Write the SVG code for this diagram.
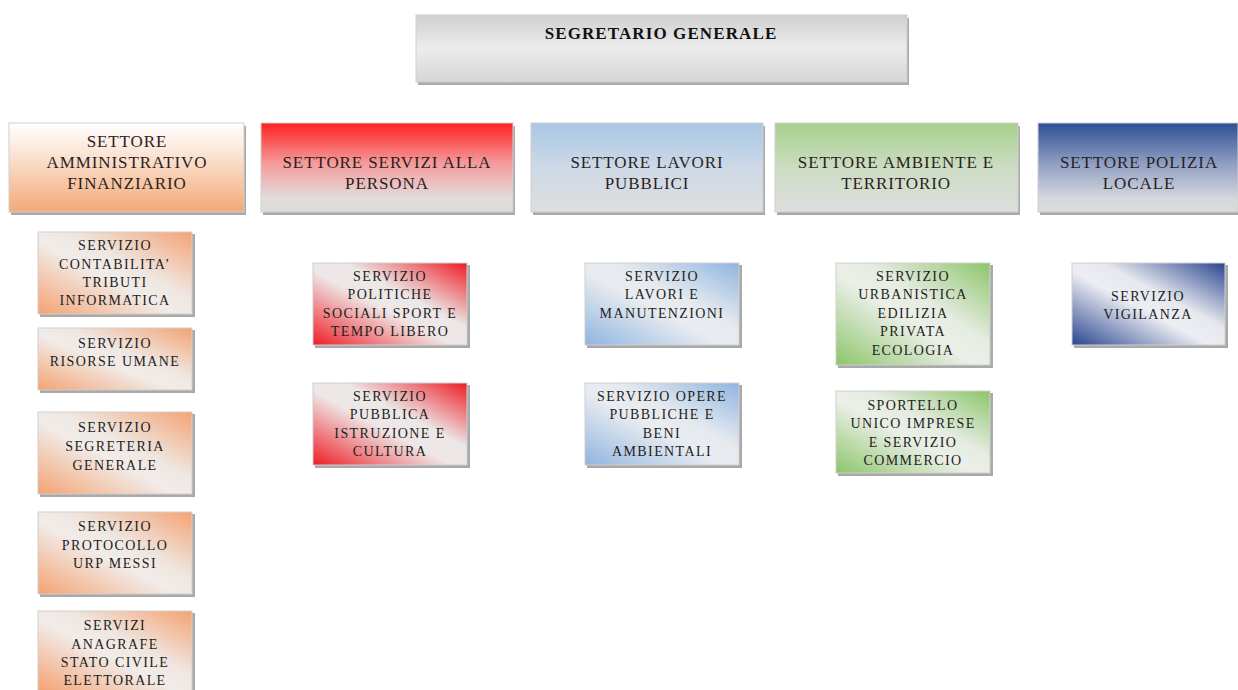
<svg xmlns="http://www.w3.org/2000/svg" width="1238" height="690" viewBox="0 0 1238 690">
<defs>
<linearGradient id="gTop" x1="0" y1="0" x2="0" y2="1"><stop offset="0" stop-color="#cfcfcf"/><stop offset="0.5" stop-color="#ececec"/><stop offset="1" stop-color="#d6d6d6"/></linearGradient>
<linearGradient id="sOr" x1="0" y1="0" x2="0" y2="1"><stop offset="0" stop-color="#ffffff"/><stop offset="0.35" stop-color="#fbe4d4"/><stop offset="1" stop-color="#f2a977"/></linearGradient>
<linearGradient id="sRed" x1="0" y1="0" x2="0" y2="1"><stop offset="0" stop-color="#ff2020"/><stop offset="0.45" stop-color="#f59a9a"/><stop offset="0.85" stop-color="#e2dcdc"/><stop offset="1" stop-color="#dcdcdc"/></linearGradient>
<linearGradient id="sBlu" x1="0" y1="0" x2="0" y2="1"><stop offset="0" stop-color="#a9c6e6"/><stop offset="0.5" stop-color="#cdd9e6"/><stop offset="1" stop-color="#dedede"/></linearGradient>
<linearGradient id="sGrn" x1="0" y1="0" x2="0" y2="1"><stop offset="0" stop-color="#a7d08c"/><stop offset="0.5" stop-color="#ccdcc2"/><stop offset="1" stop-color="#dedede"/></linearGradient>
<linearGradient id="sNav" x1="0" y1="0" x2="0" y2="1"><stop offset="0" stop-color="#2f4f95"/><stop offset="0.45" stop-color="#8e9dc2"/><stop offset="0.85" stop-color="#d6d8de"/><stop offset="1" stop-color="#dcdcdc"/></linearGradient>
<linearGradient id="bOr" x1="0" y1="1" x2="1" y2="0"><stop offset="0" stop-color="#f4a272"/><stop offset="0.45" stop-color="#f1ece9"/><stop offset="0.6" stop-color="#efe6e0"/><stop offset="1" stop-color="#f4a272"/></linearGradient>
<linearGradient id="bRed" x1="0" y1="1" x2="1" y2="0"><stop offset="0" stop-color="#ee1c24"/><stop offset="0.45" stop-color="#efe6e6"/><stop offset="0.6" stop-color="#ece8e8"/><stop offset="1" stop-color="#ee1c24"/></linearGradient>
<linearGradient id="bBlu" x1="0" y1="1" x2="1" y2="0"><stop offset="0" stop-color="#8fb4e0"/><stop offset="0.45" stop-color="#e9ecf0"/><stop offset="0.6" stop-color="#e6eaef"/><stop offset="1" stop-color="#8fb4e0"/></linearGradient>
<linearGradient id="bGrn" x1="0" y1="1" x2="1" y2="0"><stop offset="0" stop-color="#8cc56a"/><stop offset="0.45" stop-color="#ebefe8"/><stop offset="0.6" stop-color="#e6ece2"/><stop offset="1" stop-color="#8cc56a"/></linearGradient>
<linearGradient id="bNav" x1="0" y1="1" x2="1" y2="0"><stop offset="0" stop-color="#2a4590"/><stop offset="0.45" stop-color="#eceef3"/><stop offset="0.6" stop-color="#e6e8ee"/><stop offset="1" stop-color="#2a4590"/></linearGradient>
</defs>
<style>
.sh{fill:#a9a9a9}
.bd{stroke:#d0d0d0;stroke-width:1}
.t0{font-size:17px;font-weight:bold;fill:#111;letter-spacing:1.1px}
.t1{font-size:17px;fill:#2a1f1f;letter-spacing:0.9px}
.t2{font-size:14px;fill:#1e1e1e;letter-spacing:1.4px}
</style>
<rect width="1238" height="690" fill="#ffffff"/>
<g id="connectors"></g>
<g font-family="Liberation Serif, Times New Roman, serif" text-anchor="middle">
<g id="segretario">
<rect class="sh" x="418" y="18" width="491" height="67"/>
<rect x="416" y="15" width="491" height="67" fill="url(#gTop)" class="bd"/>
<text class="t0" x="661" y="39">SEGRETARIO GENERALE</text>
</g>
<g id="settore-amm">
<rect class="sh" x="11" y="126" width="235" height="89"/>
<rect x="9" y="123" width="235" height="89" fill="url(#sOr)" class="bd"/>
<text class="t1" x="127" y="147">SETTORE</text>
<text class="t1" x="127" y="168">AMMINISTRATIVO</text>
<text class="t1" x="127" y="189">FINANZIARIO</text>
</g>
<g id="settore-persona">
<rect class="sh" x="263" y="126" width="252" height="89"/>
<rect x="261" y="123" width="252" height="89" fill="url(#sRed)" class="bd"/>
<text class="t1" x="387" y="168">SETTORE SERVIZI ALLA</text>
<text class="t1" x="387" y="189">PERSONA</text>
</g>
<g id="settore-lavori">
<rect class="sh" x="533" y="126" width="232" height="89"/>
<rect x="531" y="123" width="232" height="89" fill="url(#sBlu)" class="bd"/>
<text class="t1" x="647" y="168">SETTORE LAVORI</text>
<text class="t1" x="647" y="189">PUBBLICI</text>
</g>
<g id="settore-ambiente">
<rect class="sh" x="777" y="126" width="243" height="89"/>
<rect x="775" y="123" width="243" height="89" fill="url(#sGrn)" class="bd"/>
<text class="t1" x="896" y="168">SETTORE AMBIENTE E</text>
<text class="t1" x="896" y="189">TERRITORIO</text>
</g>
<g id="settore-polizia">
<rect class="sh" x="1040" y="126" width="200" height="89"/>
<rect x="1038" y="123" width="200" height="89" fill="url(#sNav)" class="bd"/>
<text class="t1" x="1139" y="168">SETTORE POLIZIA</text>
<text class="t1" x="1139" y="189">LOCALE</text>
</g>
<g id="serv-contabilita">
<rect class="sh" x="40" y="234" width="155" height="83"/>
<rect x="38" y="232" width="154" height="82" fill="url(#bOr)" class="bd"/>
<text class="t2" x="115" y="250">SERVIZIO</text>
<text class="t2" x="115" y="269">CONTABILITA’</text>
<text class="t2" x="115" y="287">TRIBUTI</text>
<text class="t2" x="115" y="305">INFORMATICA</text>
</g>
<g id="serv-risorse">
<rect class="sh" x="40" y="330" width="155" height="63"/>
<rect x="38" y="328" width="154" height="62" fill="url(#bOr)" class="bd"/>
<text class="t2" x="115" y="348">SERVIZIO</text>
<text class="t2" x="115" y="366">RISORSE UMANE</text>
</g>
<g id="serv-segreteria">
<rect class="sh" x="40" y="414" width="155" height="83"/>
<rect x="38" y="412" width="154" height="82" fill="url(#bOr)" class="bd"/>
<text class="t2" x="115" y="432">SERVIZIO</text>
<text class="t2" x="115" y="451">SEGRETERIA</text>
<text class="t2" x="115" y="470">GENERALE</text>
</g>
<g id="serv-protocollo">
<rect class="sh" x="40" y="514" width="155" height="83"/>
<rect x="38" y="512" width="154" height="82" fill="url(#bOr)" class="bd"/>
<text class="t2" x="115" y="531">SERVIZIO</text>
<text class="t2" x="115" y="550">PROTOCOLLO</text>
<text class="t2" x="115" y="568">URP MESSI</text>
</g>
<g id="serv-anagrafe">
<rect class="sh" x="40" y="613" width="155" height="80"/>
<rect x="38" y="611" width="154" height="80" fill="url(#bOr)" class="bd"/>
<text class="t2" x="115" y="630">SERVIZI</text>
<text class="t2" x="115" y="649">ANAGRAFE</text>
<text class="t2" x="115" y="667">STATO CIVILE</text>
<text class="t2" x="115" y="685">ELETTORALE</text>
</g>
<g id="serv-politiche">
<rect class="sh" x="315" y="265" width="155" height="83"/>
<rect x="313" y="263" width="154" height="82" fill="url(#bRed)" class="bd"/>
<text class="t2" x="390" y="281">SERVIZIO</text>
<text class="t2" x="390" y="299">POLITICHE</text>
<text class="t2" x="390" y="318">SOCIALI SPORT E</text>
<text class="t2" x="390" y="336">TEMPO LIBERO</text>
</g>
<g id="serv-istruzione">
<rect class="sh" x="315" y="385" width="155" height="83"/>
<rect x="313" y="383" width="154" height="82" fill="url(#bRed)" class="bd"/>
<text class="t2" x="390" y="401">SERVIZIO</text>
<text class="t2" x="390" y="419">PUBBLICA</text>
<text class="t2" x="390" y="438">ISTRUZIONE E</text>
<text class="t2" x="390" y="456">CULTURA</text>
</g>
<g id="serv-lavori">
<rect class="sh" x="587" y="265" width="155" height="83"/>
<rect x="585" y="263" width="154" height="82" fill="url(#bBlu)" class="bd"/>
<text class="t2" x="662" y="281">SERVIZIO</text>
<text class="t2" x="662" y="299">LAVORI E</text>
<text class="t2" x="662" y="318">MANUTENZIONI</text>
</g>
<g id="serv-opere">
<rect class="sh" x="587" y="385" width="155" height="83"/>
<rect x="585" y="383" width="154" height="82" fill="url(#bBlu)" class="bd"/>
<text class="t2" x="662" y="401">SERVIZIO OPERE</text>
<text class="t2" x="662" y="419">PUBBLICHE E</text>
<text class="t2" x="662" y="438">BENI</text>
<text class="t2" x="662" y="456">AMBIENTALI</text>
</g>
<g id="serv-urbanistica">
<rect class="sh" x="838" y="265" width="155" height="103"/>
<rect x="836" y="263" width="154" height="102" fill="url(#bGrn)" class="bd"/>
<text class="t2" x="913" y="281">SERVIZIO</text>
<text class="t2" x="913" y="299">URBANISTICA</text>
<text class="t2" x="913" y="318">EDILIZIA</text>
<text class="t2" x="913" y="336">PRIVATA</text>
<text class="t2" x="913" y="355">ECOLOGIA</text>
</g>
<g id="sportello">
<rect class="sh" x="838" y="393" width="155" height="83"/>
<rect x="836" y="391" width="154" height="82" fill="url(#bGrn)" class="bd"/>
<text class="t2" x="913" y="410">SPORTELLO</text>
<text class="t2" x="913" y="428">UNICO IMPRESE</text>
<text class="t2" x="913" y="447">E SERVIZIO</text>
<text class="t2" x="913" y="465">COMMERCIO</text>
</g>
<g id="serv-vigilanza">
<rect class="sh" x="1074" y="265" width="154" height="83"/>
<rect x="1072" y="263" width="153" height="82" fill="url(#bNav)" class="bd"/>
<text class="t2" x="1148" y="301">SERVIZIO</text>
<text class="t2" x="1148" y="319">VIGILANZA</text>
</g>
</g>
</svg>
